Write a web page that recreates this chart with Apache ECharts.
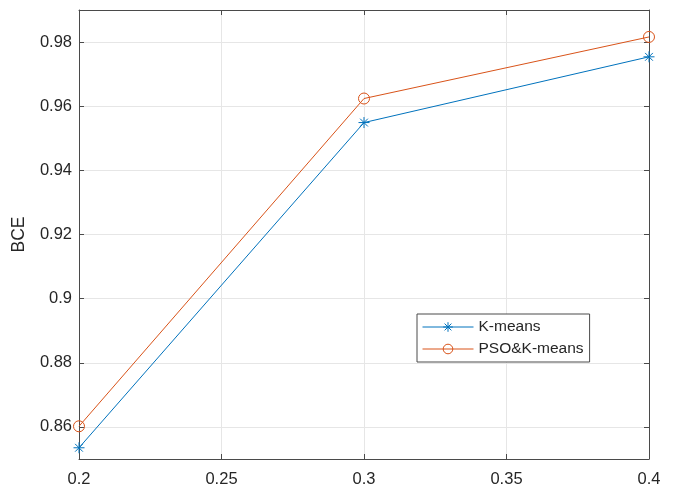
<!DOCTYPE html>
<html>
<head>
<meta charset="utf-8">
<script src="https://cdn.jsdelivr.net/npm/echarts@6/dist/echarts.min.js"></script>
<style>
  html, body { margin: 0; padding: 0; background: #fff; }
  #chart { width: 675px; height: 489px; }
</style>
</head>
<body>
<div id="chart"></div>
<script>
// Threshold values on the x axis
const xValues = [0.2, 0.3, 0.4];
// BCE scores for each method
const kmeansBCE = [0.8535, 0.9549, 0.9754];
const psoKmeansBCE = [0.8602, 0.9624, 0.9816];
const seriesNames = ['K-means', 'PSO&K-means'];
const yTitle = 'BCE';
// Axis tick values
const xTicks = [0.2, 0.25, 0.3, 0.35, 0.4];
const yTicks = [0.86, 0.88, 0.9, 0.92, 0.94, 0.96, 0.98];

const blue = '#0072BD';
const orange = '#D95319';
const axisColor = '#4a4a4a';
const textColor = '#262626';
const gridColor = '#e6e6e6';
const font = 'Liberation Sans, Arial, Helvetica, sans-serif';

// MATLAB-style asterisk: plus and cross combined
const asterisk = 'path://M10,0 L10,20 M0,10 L20,10 M2.93,2.93 L17.07,17.07 M2.93,17.07 L17.07,2.93';

const pairs = (ys) => xValues.map((x, i) => [x, ys[i]]);
const fmt = (v) => String(parseFloat(Number(v).toFixed(2)));

const chart = echarts.init(document.getElementById('chart'), null, { renderer: 'canvas' });

const axisLine = { show: true, lineStyle: { color: axisColor, width: 1 } };
const tick = (vals) => ({ show: true, inside: true, length: 5, customValues: vals, lineStyle: { color: axisColor } });

chart.setOption({
  animation: false,
  backgroundColor: '#ffffff',
  grid: { left: 79, right: 26, top: 10, bottom: 30, containLabel: false },
  legend: {
    data: seriesNames,
    orient: 'vertical',
    left: 417,
    top: 314,
    width: 174,
    itemWidth: 51,
    itemHeight: 12,
    itemGap: 6,
    padding: [5, 6, 5, 5],
    borderColor: '#4a4a4a',
    borderWidth: 1,
    backgroundColor: '#ffffff',
    lineStyle: { width: 1 },
    itemStyle: { borderWidth: 1 },
    textStyle: { fontFamily: font, fontSize: 15.5, color: textColor }
  },
  xAxis: [
    {
      type: 'value',
      min: 0.2, max: 0.4,
      axisLine: axisLine,
      axisTick: tick(xTicks),
      axisLabel: { fontFamily: font, fontSize: 16.5, color: textColor, margin: 12,
        customValues: xTicks, formatter: fmt },
      splitLine: { show: true, lineStyle: { color: gridColor, width: 1 } }
    },
    {
      type: 'value', position: 'top',
      min: 0.2, max: 0.4,
      axisLine: axisLine,
      axisTick: tick(xTicks),
      axisLabel: { show: false },
      splitLine: { show: false }
    }
  ],
  yAxis: [
    {
      type: 'value',
      min: 0.85, max: 0.99,
      name: yTitle,
      nameLocation: 'middle',
      nameGap: 51,
      nameTextStyle: { fontFamily: font, fontSize: 17.5, color: textColor },
      axisLine: axisLine,
      axisTick: tick(yTicks),
      axisLabel: { fontFamily: font, fontSize: 16.5, color: textColor, margin: 7,
        customValues: yTicks, formatter: fmt },
      splitLine: { show: true, lineStyle: { color: gridColor, width: 1 } }
    },
    {
      type: 'value', position: 'right',
      min: 0.85, max: 0.99,
      axisLine: axisLine,
      axisTick: tick(yTicks),
      axisLabel: { show: false },
      splitLine: { show: false }
    }
  ],
  series: [
    {
      name: seriesNames[0],
      type: 'line',
      data: pairs(kmeansBCE),
      symbol: asterisk,
      symbolSize: 11,
      showAllSymbol: true,
      lineStyle: { color: blue, width: 1 },
      itemStyle: { color: blue, borderColor: blue, borderWidth: 1 },
      emphasis: { disabled: true },
      z: 3
    },
    {
      name: seriesNames[1],
      type: 'line',
      data: pairs(psoKmeansBCE),
      symbol: 'circle',
      symbolSize: 11,
      showAllSymbol: true,
      lineStyle: { color: orange, width: 1 },
      itemStyle: { color: 'rgba(255,255,255,0)', borderColor: orange, borderWidth: 1 },
      emphasis: { disabled: true },
      z: 3
    }
  ]
});
</script>
</body>
</html>
